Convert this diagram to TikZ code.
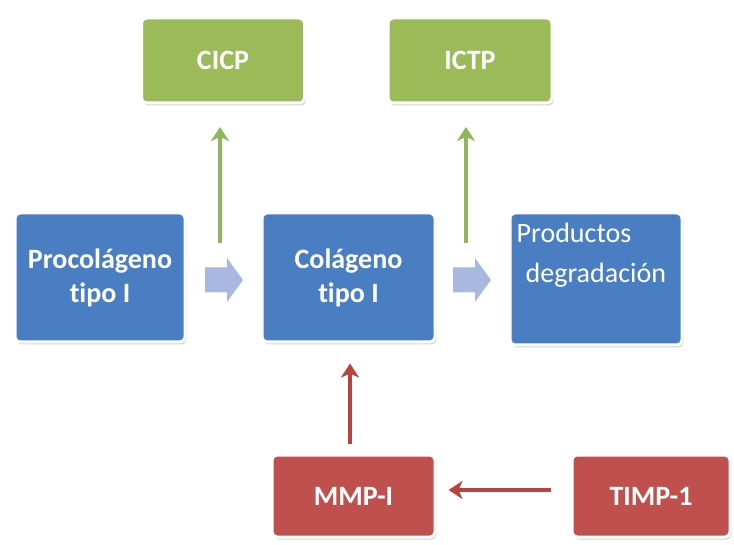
\documentclass[tikz,border=0pt]{standalone}
\usepackage{fontspec}
\setmainfont{Carlito}[Ligatures=NoCommon]
\usetikzlibrary{arrows.meta,shadows,calc}
\definecolor{bluebox}{HTML}{4A7EC3}
\definecolor{greenbox}{HTML}{9BBB59}
\definecolor{redbox}{HTML}{C0504D}
\definecolor{lav}{HTML}{A9B8DE}
\definecolor{garr}{HTML}{8FB65A}
\definecolor{rarr}{HTML}{B8433F}
\tikzset{
  box/.style={rounded corners=5pt, draw=white, line width=3pt, text=white,
    font=\bfseries\fontsize{28}{34}\selectfont, align=center, inner sep=0pt,
    drop shadow={shadow xshift=1.5pt, shadow yshift=-2.5pt, opacity=0.35, fill=gray}},
  bbox/.style={box, fill=bluebox},
  gbox/.style={box, fill=greenbox},
  rbox/.style={box, fill=redbox},
  blockarrow/.style={fill=lav, draw=none},
  garrow/.style={draw=garr, line width=4.5pt, -{Stealth[length=14pt,width=18pt,inset=4pt]}},
  rarrow/.style={draw=rarr, line width=4pt, -{Stealth[length=14pt,width=18pt,inset=4pt]}}
}
\begin{document}
\begin{tikzpicture}[x=1pt,y=-1pt]
\useasboundingbox (0,0) rectangle (734,545);
\node[gbox, minimum width=163pt, minimum height=85pt] (cicp) at (223,60.5) {CICP};
\node[gbox, minimum width=164pt, minimum height=85pt] (ictp) at (470,60.5) {ICTP};
\node[bbox, minimum width=170pt, minimum height=129pt] (pro) at (100,277.5) {Procolágeno\\tipo I};
\node[bbox, minimum width=173pt, minimum height=129pt] (col) at (348.5,277.5) {Colágeno\\tipo I};
\node[bbox, minimum width=172pt, minimum height=132pt] (prod) at (596,279) {};
\node[text=white, font=\fontsize{28}{40}\selectfont, anchor=north west, align=left, inner sep=0pt] (prodtxt) at ($(prod.north west)+(8,11)$) {Productos\\\hspace*{9pt}degradación};
\node[rbox, minimum width=163pt, minimum height=82pt] (mmp) at (353.5,496) {MMP-I};
\node[rbox, minimum width=158pt, minimum height=82pt] (timp) at (651,496) {TIMP-1};
\coordinate (ba1) at (205,280);
\coordinate (ba2) at (453,280);
\foreach \b in {ba1,ba2}
  \fill[blockarrow] (\b) ++(0,-12.5) -- ++(22,0) -- ++(0,-9.5) -- ++(16,22) -- ++(-16,22) -- ++(0,-9.5) -- ++(-22,0) -- cycle;
\coordinate (g1s) at (220,243);
\coordinate (g1e) at (220,127);
\coordinate (g2s) at (466,243);
\coordinate (g2e) at (466,127);
\draw[garrow] (g1s) -- (g1e);
\draw[garrow] (g2s) -- (g2e);
\draw[rarrow] ($(mmp.north)+(-3.5,-10)$) -- ($(col.south)+(1.5,20)$);
\draw[rarrow] ($(timp.west)+(-20,-6)$) -- ($(mmp.east)+(12,-6)$);
\end{tikzpicture}
\end{document}
